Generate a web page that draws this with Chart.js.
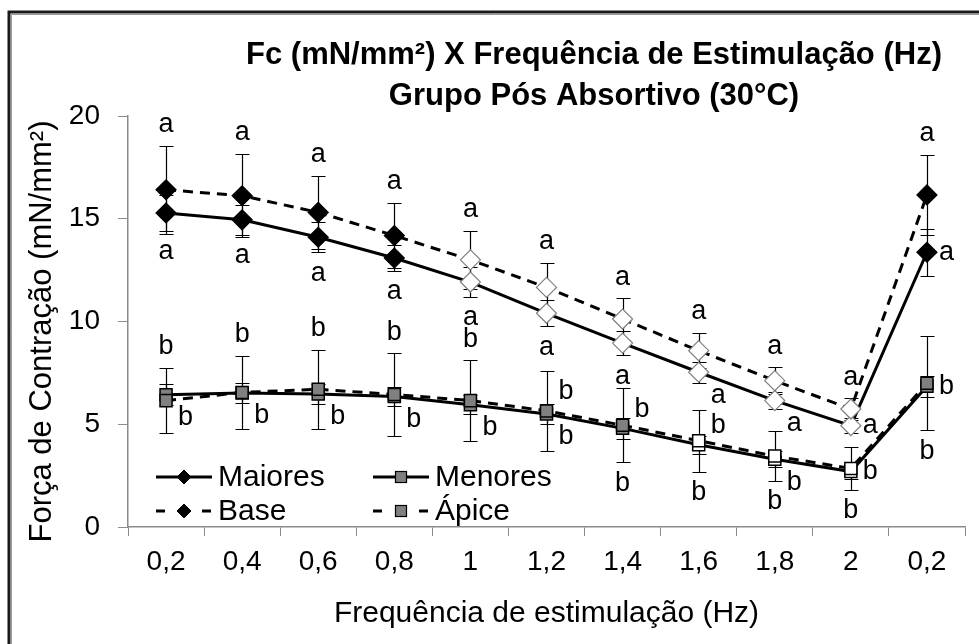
<!DOCTYPE html>
<html>
<head>
<meta charset="utf-8">
<script src="https://cdn.jsdelivr.net/npm/chart.js@4/dist/chart.umd.min.js"></script>
<style>
  html, body { margin: 0; padding: 0; background: #fff; }
  #wrap { width: 979px; height: 644px; position: relative; }
</style>
</head>
<body>
<div id="wrap"><canvas id="chart" width="979" height="644"></canvas></div>
<script>
// Stimulation frequencies (Hz); the last point repeats 0,2 Hz after the series
const categories = ['0,2', '0,4', '0,6', '0,8', '1', '1,2', '1,4', '1,6', '1,8', '2', '0,2'];

// Mean contraction force (mN/mm²) and error bar half-lengths
const maiores    = [15.28, 14.95, 14.10, 13.09, 11.92, 10.40, 8.95, 7.53, 6.15, 4.93, 13.37];
const maioresErr = [0.86, 0.74, 0.73, 0.61, 0.72, 0.63, 0.60, 0.52, 0.41, 0.36, 1.14];
const base       = [16.41, 16.12, 15.31, 14.18, 13.00, 11.66, 10.12, 8.58, 7.12, 5.74, 16.16];
const baseErr    = [2.15, 2.03, 1.79, 1.59, 1.42, 1.19, 1.01, 0.86, 0.65, 0.52, 1.94];
const menores    = [6.44, 6.52, 6.47, 6.35, 5.95, 5.50, 4.80, 4.00, 3.30, 2.70, 6.85];
const menoresErr = [0.50, 0.50, 0.50, 0.45, 0.45, 0.50, 0.50, 0.45, 0.40, 0.35, 0.50];
const apice      = [6.15, 6.55, 6.70, 6.45, 6.15, 5.65, 4.95, 4.20, 3.45, 2.85, 7.00];
const apiceErr   = [1.60, 1.78, 1.93, 2.00, 1.97, 1.95, 1.80, 1.50, 1.20, 1.05, 2.30];

// Statistical group letters for each point
const maioresLetters = ['a', 'a', 'a', 'a', 'a', 'a', 'a', 'a', 'a', 'a', 'a'];
const baseLetters    = ['a', 'a', 'a', 'a', 'a', 'a', 'a', 'a', 'a', 'a', 'a'];
const menoresLetters = ['b', 'b', 'b', 'b', 'b', 'b', 'b', 'b', 'b', 'b', 'b'];
const apiceLetters   = ['b', 'b', 'b', 'b', 'b', 'b', 'b', 'b', 'b', 'b', 'b'];

const yTicks = [0, 5, 10, 15, 20];

const titleLines = ['Fc (mN/mm²) X Frequência de Estimulação (Hz)', 'Grupo Pós Absortivo (30°C)'];
const yTitle = 'Força de Contração (mN/mm²)';
const xTitle = 'Frequência de estimulação (Hz)';

// Where each letter sits relative to its point:
// up = above top whisker, down = below bottom whisker, r = right,
// ru = right and raised, rd = right and lowered
const maioresPlace = ['down', 'down', 'down', 'down', 'down', 'down', 'down', 'rd', 'rd', 'r', 'r'];
const basePlace    = ['up', 'up', 'up', 'up', 'up', 'up', 'up', 'up', 'up', 'up', 'up'];
const menoresPlace = ['rd', 'rd', 'rd', 'rd', 'rd', 'rd', 'ru', 'ru', 'rd', 'r', 'r'];
const apicePlace   = ['up', 'up', 'up', 'up', 'up', 'ru', 'down', 'down', 'down', 'down', 'down'];

// Hollow markers mark the intermediate frequencies
const hollowDiamond = [false, false, false, false, true, true, true, true, true, true, false];
const hollowSquare  = [false, false, false, false, false, false, false, true, true, true, false];

const FONT = '"Liberation Sans", Arial, Helvetica, sans-serif';
const AXIS_GRAY = '#8c8c8c';
const SQUARE_GRAY = '#808080';

const diamondFill = hollowDiamond.map(h => h ? '#ffffff' : '#000000');
const diamondEdge = hollowDiamond.map(h => h ? '#808080' : '#000000');
const squareFill  = hollowSquare.map(h => h ? '#ffffff' : SQUARE_GRAY);

const errorSets = [maioresErr, menoresErr, baseErr, apiceErr];
const letterSets = [maioresLetters, menoresLetters, baseLetters, apiceLetters];
const placeSets = [maioresPlace, menoresPlace, basePlace, apicePlace];

const bgPlugin = {
  id: 'pageBackground',
  beforeDraw(chart) {
    const ctx = chart.ctx;
    ctx.save();
    ctx.fillStyle = '#ffffff';
    ctx.fillRect(0, 0, chart.width, chart.height);
    // outer frame, open at the right and bottom edges
    ctx.strokeStyle = '#1a1a1a';
    ctx.lineWidth = 3;
    ctx.beginPath();
    ctx.moveTo(9, chart.height + 5);
    ctx.lineTo(9, 12);
    ctx.lineTo(chart.width + 5, 12);
    ctx.stroke();
    ctx.strokeStyle = '#9a9a9a';
    ctx.lineWidth = 1;
    ctx.beginPath();
    ctx.moveTo(11.5, chart.height + 5);
    ctx.lineTo(11.5, 14.5);
    ctx.lineTo(chart.width + 5, 14.5);
    ctx.stroke();
    ctx.restore();
  }
};

const errorBarPlugin = {
  id: 'errorBars',
  beforeDatasetsDraw(chart) {
    const ctx = chart.ctx;
    const yScale = chart.scales.y;
    ctx.save();
    ctx.strokeStyle = '#000000';
    ctx.lineWidth = 1.2;
    chart.data.datasets.forEach((ds, di) => {
      const meta = chart.getDatasetMeta(di);
      const errs = errorSets[di];
      meta.data.forEach((pt, i) => {
        const v = ds.data[i];
        const yt = Math.round(yScale.getPixelForValue(v + errs[i])) + 0.5;
        const yb = Math.round(yScale.getPixelForValue(v - errs[i])) + 0.5;
        const x = Math.round(pt.x) + 0.5;
        ctx.beginPath();
        ctx.moveTo(x, yt); ctx.lineTo(x, yb);
        ctx.moveTo(x - 7, yt); ctx.lineTo(x + 7, yt);
        ctx.moveTo(x - 7, yb); ctx.lineTo(x + 7, yb);
        ctx.stroke();
      });
    });
    ctx.restore();
  }
};

const letterPlugin = {
  id: 'groupLetters',
  afterDatasetsDraw(chart) {
    const ctx = chart.ctx;
    const yScale = chart.scales.y;
    ctx.save();
    ctx.font = '27px ' + FONT;
    ctx.fillStyle = '#000000';
    ctx.textBaseline = 'middle';
    chart.data.datasets.forEach((ds, di) => {
      const meta = chart.getDatasetMeta(di);
      const errs = errorSets[di];
      meta.data.forEach((pt, i) => {
        const v = ds.data[i];
        const place = placeSets[di][i];
        const txt = letterSets[di][i];
        let x = pt.x, y = pt.y;
        ctx.textAlign = 'center';
        if (place === 'up') {
          y = yScale.getPixelForValue(v + errs[i]) - 21;
        } else if (place === 'down') {
          y = yScale.getPixelForValue(v - errs[i]) + 21;
        } else {
          ctx.textAlign = 'left';
          x = pt.x + 12;
          if (place === 'ru') y = pt.y - 19;
          if (place === 'rd') y = pt.y + 23;
        }
        ctx.fillText(txt, x, y);
      });
    });
    ctx.restore();
  }
};

const titlePlugin = {
  id: 'titles',
  afterDraw(chart) {
    const ctx = chart.ctx;
    const area = chart.chartArea;
    ctx.save();
    ctx.font = 'bold 31px ' + FONT;
    ctx.fillStyle = '#000000';
    ctx.textAlign = 'center';
    ctx.textBaseline = 'alphabetic';
    ctx.fillText(titleLines[0], 594, 64);
    ctx.fillText(titleLines[1], 594, 105);
    // vertical axis title
    ctx.font = '31px ' + FONT;
    ctx.textBaseline = 'middle';
    ctx.translate(42, (area.top + area.bottom) / 2 + 10);
    ctx.rotate(-Math.PI / 2);
    ctx.fillText(yTitle, 0, 0);
    ctx.restore();
  }
};

function drawDiamond(ctx, x, y, r, fill, edge) {
  ctx.beginPath();
  ctx.moveTo(x - r, y); ctx.lineTo(x, y - r); ctx.lineTo(x + r, y); ctx.lineTo(x, y + r);
  ctx.closePath();
  ctx.fillStyle = fill; ctx.fill();
  ctx.strokeStyle = edge; ctx.lineWidth = 1; ctx.stroke();
}
function drawSquare(ctx, x, y, s, fill, edge) {
  ctx.fillStyle = fill;
  ctx.fillRect(x - s / 2, y - s / 2, s, s);
  ctx.strokeStyle = edge; ctx.lineWidth = 1.2;
  ctx.strokeRect(x - s / 2, y - s / 2, s, s);
}

const legendPlugin = {
  id: 'insetLegend',
  afterDraw(chart) {
    const ctx = chart.ctx;
    const area = chart.chartArea;
    const rows = [area.bottom - 50, area.bottom - 16];
    const cols = [area.left + 28, area.left + 245];
    const sampleLen = 56;
    ctx.save();
    chart.data.datasets.forEach((ds, di) => {
      const col = di % 2, row = Math.floor(di / 2);
      const x0 = cols[col], y = rows[row];
      const mid = x0 + sampleLen / 2;
      ctx.strokeStyle = '#000000';
      ctx.lineWidth = 3;
      ctx.setLineDash(ds.borderDash && ds.borderDash.length ? [9, 14] : []);
      ctx.beginPath();
      ctx.moveTo(x0, y); ctx.lineTo(x0 + sampleLen, y);
      ctx.stroke();
      ctx.setLineDash([]);
      if (ds.pointStyle === 'rectRot') drawDiamond(ctx, mid, y, 7, '#000000', '#000000');
      else drawSquare(ctx, mid, y, 11, SQUARE_GRAY, '#000000');
      ctx.font = '30px ' + FONT;
      ctx.fillStyle = '#000000';
      ctx.textAlign = 'left';
      ctx.textBaseline = 'middle';
      ctx.fillText(ds.label, x0 + sampleLen + 6, y + 1);
    });
    ctx.restore();
  }
};

new Chart(document.getElementById('chart'), {
  type: 'line',
  data: {
    labels: categories,
    datasets: [
      {
        label: 'Maiores', data: maiores, order: 4,
        borderColor: '#000000', borderWidth: 3, tension: 0, fill: false,
        pointStyle: 'rectRot', pointRadius: 10, pointHoverRadius: 10,
        pointBackgroundColor: diamondFill, pointBorderColor: diamondEdge, pointBorderWidth: 1.2
      },
      {
        label: 'Menores', data: menores, order: 3,
        borderColor: '#000000', borderWidth: 3, tension: 0, fill: false,
        pointStyle: 'rect', pointRadius: 8.5, pointHoverRadius: 8.5,
        pointBackgroundColor: squareFill, pointBorderColor: '#000000', pointBorderWidth: 1.5
      },
      {
        label: 'Base', data: base, order: 2,
        borderColor: '#000000', borderWidth: 3, borderDash: [10, 7], tension: 0, fill: false,
        pointStyle: 'rectRot', pointRadius: 10, pointHoverRadius: 10,
        pointBackgroundColor: diamondFill, pointBorderColor: diamondEdge, pointBorderWidth: 1.2
      },
      {
        label: 'Ápice', data: apice, order: 1,
        borderColor: '#000000', borderWidth: 3, borderDash: [10, 7], tension: 0, fill: false,
        pointStyle: 'rect', pointRadius: 8.5, pointHoverRadius: 8.5,
        pointBackgroundColor: squareFill, pointBorderColor: '#000000', pointBorderWidth: 1.5
      }
    ]
  },
  options: {
    responsive: false,
    animation: false,
    devicePixelRatio: 1,
    layout: { padding: { left: 10, right: 14, top: 116, bottom: 10 } },
    plugins: {
      legend: { display: false },
      title: { display: false },
      tooltip: { enabled: false }
    },
    scales: {
      x: {
        type: 'category',
        offset: true,
        grid: { offset: true, drawOnChartArea: false, drawTicks: true, tickLength: 9, color: AXIS_GRAY, lineWidth: 1 },
        border: { display: true, color: AXIS_GRAY, width: 1.5 },
        ticks: { color: '#000000', font: { family: FONT, size: 28 }, padding: 9, maxRotation: 0, autoSkip: false },
        title: { display: true, text: xTitle, color: '#000000', font: { family: FONT, size: 30 }, padding: { top: 0, bottom: 2 } },
        afterFit(scale) { scale.height = 107; }
      },
      y: {
        min: 0, max: 20,
        afterBuildTicks(scale) { scale.ticks = yTicks.map(v => ({ value: v })); },
        grid: { drawOnChartArea: false, drawTicks: true, tickLength: 10, color: AXIS_GRAY, lineWidth: 1 },
        border: { display: true, color: AXIS_GRAY, width: 1.5 },
        ticks: { color: '#000000', font: { family: FONT, size: 28 }, padding: 18 },
        title: { display: false },
        afterFit(scale) { scale.width = 118; }
      }
    }
  },
  plugins: [bgPlugin, errorBarPlugin, letterPlugin, titlePlugin, legendPlugin]
});
</script>
</body>
</html>
